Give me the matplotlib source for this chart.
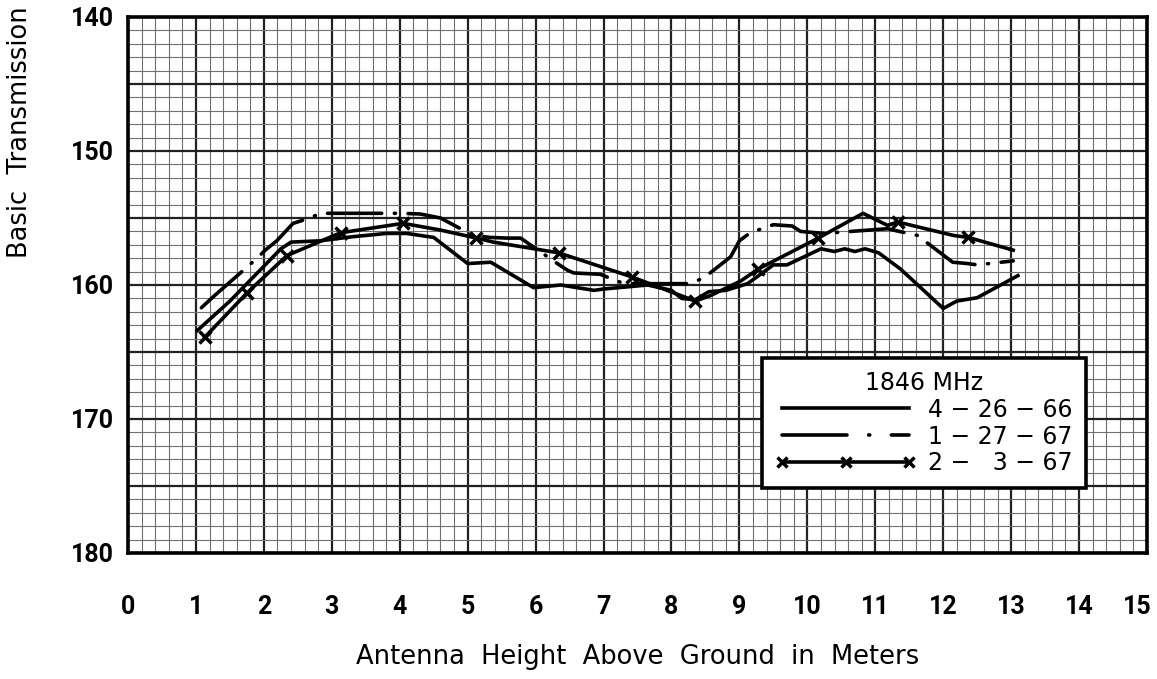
import numpy as np
import matplotlib
matplotlib.use("Agg")
import matplotlib.pyplot as plt
from matplotlib.lines import Line2D
from matplotlib.transforms import ScaledTranslation

# 4-26-66 (solid)
solid_x = [1.02, 1.5, 2.0, 2.25, 2.4, 2.83, 3.3, 3.81, 4.1, 4.5, 5.0, 5.34, 5.97, 6.37,
           6.86, 7.0, 7.65, 8.0, 8.15, 8.35, 8.55, 8.8, 9.12, 9.5, 9.7, 10.2, 10.4, 10.55,
           10.7, 10.85, 11.05, 11.37, 12.0, 12.2, 12.5, 12.7, 13.1]
solid_y = [163.4, 161.2, 158.6, 157.3, 156.8, 156.7, 156.4, 156.15, 156.15, 156.45, 158.4,
           158.3, 160.2, 160.0, 160.4, 160.3, 160.0, 160.4, 161.0, 161.1, 160.5, 160.4,
           159.9, 158.5, 158.5, 157.3, 157.5, 157.3, 157.5, 157.3, 157.6, 158.8, 161.75,
           161.2, 160.95, 160.4, 159.3]

# 1-27-67 (dash-dot)
dd_x = [1.08, 1.25, 1.9, 2.02, 2.19, 2.43, 2.68, 2.83, 3.2, 3.9, 4.0, 4.3, 4.6, 5.08,
        5.33, 5.58, 5.78, 6.32, 6.47, 6.56, 6.95, 7.3, 7.7, 8.25, 8.47, 8.87, 9.0, 9.16,
        9.5, 9.78, 9.9, 10.24, 11.18, 11.44, 11.62, 12.14, 12.36, 12.5, 13.03]
dd_y = [161.7, 160.9, 158.0, 157.4, 156.7, 155.4, 155.0, 154.65, 154.65, 154.65, 154.65,
        154.7, 155.0, 156.3, 156.45, 156.5, 156.5, 158.4, 158.9, 159.1, 159.2, 159.9,
        159.9, 159.9, 159.5, 157.9, 156.7, 156.1, 155.5, 155.6, 156.0, 156.15, 155.8,
        156.1, 156.3, 158.3, 158.4, 158.5, 158.2]

# 2-3-67 (x markers)
xc_x = [1.13, 1.75, 2.34, 3.13, 4.05, 4.6, 5.13, 5.38, 6.34, 7.06, 7.42, 8.35, 8.57,
        9.02, 9.28, 10.16, 10.82, 11.18, 11.33, 12.15, 12.37, 13.03]
xc_y = [163.9, 160.6, 157.8, 156.1, 155.4, 155.9, 156.5, 156.8, 157.6, 158.8, 159.4,
        161.2, 160.8, 159.7, 158.8, 156.5, 154.65, 155.55, 155.3, 156.3, 156.45, 157.4]
xc_marks = [0, 1, 2, 3, 4, 6, 8, 10, 11, 14, 15, 18, 20]

labels = ["4 \u2212 26 \u2212 66", "1 \u2212 27 \u2212 67", "2 \u2212   3 \u2212 67"]
legend_title = "1846 MHz"
x_ticks = list(range(0, 16))
y_ticks = [140, 150, 160, 170, 180]

fig = plt.figure(figsize=(11.57, 6.79), dpi=100)
ax = fig.add_axes([128 / 1157, 1 - 553 / 679, 1019 / 1157, 536 / 679])

ax.set_xlim(0, 15)
ax.set_ylim(180, 140)

# graph paper
for v in np.arange(0, 15.01, 0.2):
    major = abs(v - round(v)) < 1e-6
    ax.axvline(v, color="#222222" if major else "#707070",
               lw=1.6 if major else 0.8, zorder=0)
for v in np.arange(140, 180.01, 1):
    major = int(round(v)) % 5 == 0
    ax.axhline(v, color="#222222" if major else "#707070",
               lw=1.6 if major else 0.8, zorder=0)

lw = 2.6
ax.plot(solid_x, solid_y, color="black", lw=lw, solid_joinstyle="round", zorder=3)
ax.plot(dd_x, dd_y, color="black", lw=lw, linestyle=(0, (15, 3.5, 0.3, 3.5)),
        dash_capstyle="round", zorder=3)
ax.plot(xc_x, xc_y, color="black", lw=lw, marker="x", markersize=8, mew=2.5,
        markevery=xc_marks, zorder=3)

tick_font = ["DejaVu Sans Condensed", "Roboto", "DejaVu Sans"]
ax.set_xticks(x_ticks)
ax.set_yticks(y_ticks)
ax.set_xticklabels([str(t) for t in x_ticks], family=tick_font, fontweight="bold", fontsize=18)
ax.set_yticklabels([str(t) for t in y_ticks], family=tick_font, fontweight="bold", fontsize=18)
ax.tick_params(axis="x", length=0, pad=30)
ax.tick_params(axis="y", length=0, pad=10)
# last label sits at the very edge of the sheet; nudge it inward
last = ax.get_xticklabels()[-1]
last.set_transform(last.get_transform() + ScaledTranslation(-7 / 72, 0, fig.dpi_scale_trans))

for s in ax.spines.values():
    s.set_linewidth(2.6)
    s.set_color("black")

ax.set_xlabel("Antenna  Height  Above  Ground  in  Meters", fontsize=18.5, labelpad=18)
fig.text(20 / 1157, 1 - 258 / 679, "Basic  Transmission", rotation=90,
         ha="center", va="bottom", fontsize=18.5)

handles = [
    Line2D([], [], color="black", lw=lw),
    Line2D([], [], color="black", lw=lw, linestyle=(0, (18, 6, 0.3, 6)), dash_capstyle="round"),
    Line2D([], [], color="black", lw=lw, marker="x", markersize=7, mew=2.5),
]
leg = ax.legend(handles, labels, title=legend_title, loc="upper left",
                bbox_to_anchor=(0.622, 0.364), borderaxespad=0, fontsize=17,
                title_fontsize=17, handlelength=6.0, handletextpad=0.5, numpoints=3,
                labelspacing=0.12, borderpad=0.55, fancybox=False, framealpha=1,
                edgecolor="black")
leg.get_frame().set_linewidth(2.6)
leg.set_zorder(5)

fig.savefig("out.png", dpi=100)
